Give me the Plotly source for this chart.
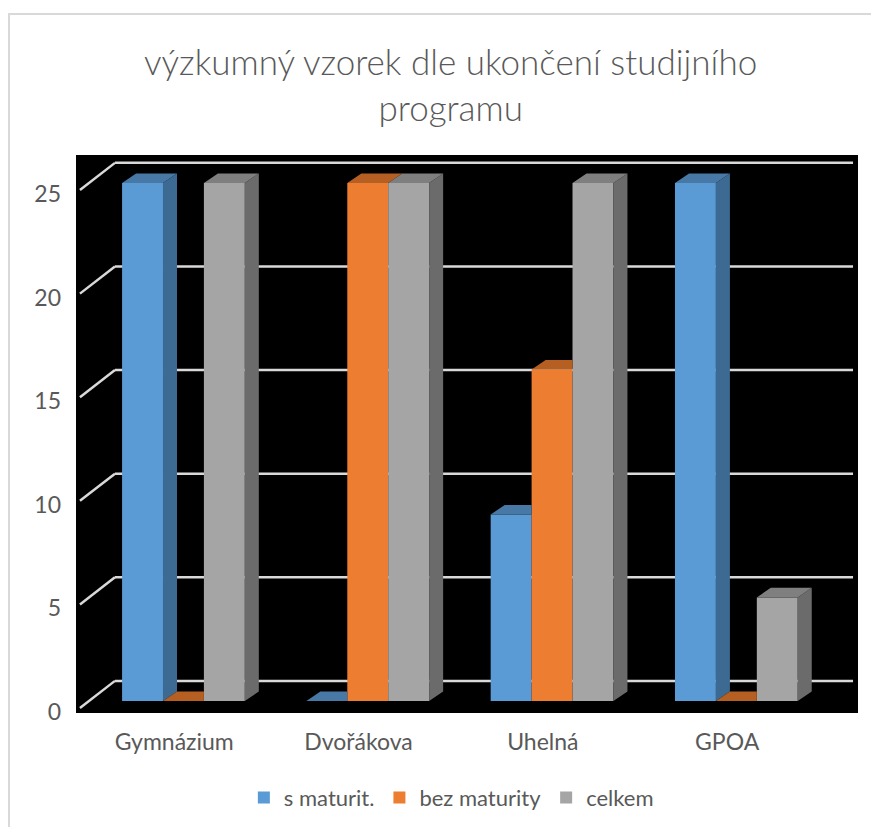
import plotly.graph_objects as go

categories = ["Gymnázium", "Dvořákova", "Uhelná", "GPOA"]
s_maturit = [25, 0, 9, 25]
bez_maturity = [0, 25, 16, 0]
celkem = [25, 25, 25, 5]
series_names = ["s maturit.", "bez maturity", "celkem"]
y_ticks = [0, 5, 10, 15, 20, 25]

series = [s_maturit, bez_maturity, celkem]
front_col = ["#5b9bd5", "#ed7d31", "#a5a5a5"]
side_col = ["#3d6a93", "#a9561f", "#6b6b6b"]
top_col = ["#4878a6", "#b65f22", "#7f7f7f"]

W = 0.222            # bar width in x units
DX, DY = 0.076, 0.46  # fake 3d depth offset
TXT = "#595959"
FONT = "Lato"

fig = go.Figure()

# back wall gridlines (behind the bars)
for v in y_ticks:
    fig.add_shape(type="line", layer="below", xref="x", yref="y",
                  x0=-0.3717, x1=3.633, y0=v + 0.97, y1=v + 0.97,
                  line=dict(color="#d9d9d9", width=2.5))
    fig.add_shape(type="line", layer="below", xref="x", yref="y",
                  x0=-0.5616, x1=-0.3717, y0=v - 0.34, y1=v + 0.97,
                  line=dict(color="#d9d9d9", width=2.5))

# front faces
for k, vals in enumerate(series):
    fig.add_trace(go.Bar(
        x=[i + (k - 1) * W for i in range(len(categories))], y=vals, width=W,
        name=series_names[k], marker=dict(color=front_col[k], line=dict(width=0)),
        hoverinfo="skip"))

# side and top faces
for k, vals in enumerate(series):
    sx, sy, tx, ty = [], [], [], []
    for i, h in enumerate(vals):
        l = i + (k - 1) * W - W / 2
        r = l + W
        nxt = series[k + 1][i] if k < len(series) - 1 else None
        if h > 0 and (nxt is None or nxt < h):
            base = nxt if nxt is not None else 0
            sx += [r, r, r + DX, r + DX, r, None]
            sy += [base, h, h + DY, base + DY, base, None]
        if nxt is not None and nxt >= h + DY:
            tx += [l, r, r, l + DX, l, None]
            ty += [h, h, h + DY, h + DY, h, None]
        else:
            tx += [l, r, r + DX, l + DX, l, None]
            ty += [h, h, h + DY, h + DY, h, None]
    fig.add_trace(go.Scatter(x=sx, y=sy, fill="toself", fillcolor=side_col[k], mode="lines",
                             line=dict(width=0), showlegend=False, hoverinfo="skip"))
    fig.add_trace(go.Scatter(x=tx, y=ty, fill="toself", fillcolor=top_col[k], mode="lines",
                             line=dict(width=0), showlegend=False, hoverinfo="skip"))

# chart border
fig.add_shape(type="rect", xref="paper", yref="paper", x0=-0.0857, x1=1.06,
              y0=-0.25, y1=1.2527, line=dict(color="#d9d9d9", width=2))

fig.add_annotation(text="výzkumný vzorek dle ukončení studijního<br>programu",
                   xref="paper", yref="paper", x=0.4795, y=1.127, showarrow=False,
                   xanchor="center", yanchor="middle",
                   font=dict(family=FONT, size=35, color=TXT, weight=300))

fig.update_layout(
    width=879, height=827, autosize=False,
    margin=dict(l=68, r=29, t=147, b=122),
    paper_bgcolor="white", plot_bgcolor="black",
    barmode="overlay", showlegend=True,
    font=dict(family=FONT, color=TXT, size=22),
    legend=dict(orientation="h", x=0.48, xanchor="center", y=-0.152, yanchor="middle",
                font=dict(size=22, color=TXT), itemclick=False),
    xaxis=dict(range=[-0.583, 3.66], tickvals=[i - 0.05 for i in range(len(categories))],
               ticktext=categories, showgrid=False, zeroline=False, showline=False,
               ticklabelstandoff=13, tickfont=dict(size=23, color=TXT)),
    yaxis=dict(range=[-0.58, 26.35], tickvals=[v - 0.53 for v in y_ticks],
               ticktext=[str(v) for v in y_ticks], showgrid=False, zeroline=False,
               showline=False, ticklabelstandoff=14, tickfont=dict(size=23, color=TXT)),
)

fig.write_html("out.html")
